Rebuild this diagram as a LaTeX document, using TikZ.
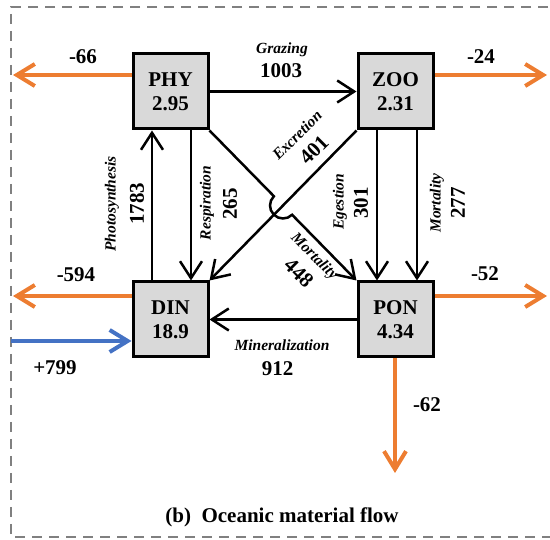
\documentclass[tikz,border=0pt]{standalone}
\usepackage{fontspec}
\setmainfont{Liberation Serif}
\usetikzlibrary{arrows.meta,calc}
\definecolor{ocOrange}{HTML}{ED7D31}
\definecolor{ocBlue}{HTML}{4472C4}
\definecolor{boxGray}{HTML}{D9D9D9}
\definecolor{frameGray}{HTML}{808080}
\begin{document}
\begin{tikzpicture}[x=1pt,y=1pt,
  pool/.style={draw=black,line width=3pt,fill=boxGray,minimum width=75pt,minimum height=75pt,inner sep=0pt,align=center,font=\fontsize{21}{24}\selectfont\bfseries},
  flow/.style={line width=2.5pt,-{Straight Barb[length=17pt,width=22pt]}},
  outflow/.style={ocOrange,line width=4pt,-{Straight Barb[length=18pt,width=22pt]}},
  inflow/.style={ocBlue,line width=4pt,-{Straight Barb[length=18pt,width=22pt]}},
  num/.style={font=\fontsize{21}{24}\selectfont\bfseries,inner sep=0pt},
  lab/.style={font=\fontsize{15.5}{18}\selectfont\bfseries\itshape,inner sep=0pt}
]
\useasboundingbox (0,0) rectangle (550,-540);
\clip (0,0) rectangle (550,-540);
\draw[frameGray,line width=2.5pt,dash pattern=on 10pt off 7pt] (565,-7) -- (11,-7) -- (11,-537) -- (565,-537);

\node[pool] (PHY) at (170.5,-91.5) {PHY\\2.95};
\node[pool] (ZOO) at (395.5,-91.5) {ZOO\\2.31};
\node[pool] (DIN) at (170.5,-319.5) {DIN\\18.9};
\node[pool] (PON) at (395.5,-319.5) {PON\\4.34};

% outer flows
\coordinate (o1) at (13,-75);
\coordinate (o2) at (547,-75);
\coordinate (o3) at (13,-296);
\coordinate (o4) at (547,-296);
\coordinate (o5) at (395,-473);
\coordinate (i1) at (11,-341);
\draw[outflow] (PHY.west |- o1) -- (o1);
\draw[outflow] (ZOO.east |- o2) -- (o2);
\draw[outflow] (DIN.west |- o3) -- (o3);
\draw[outflow] (PON.east |- o4) -- (o4);
\draw[outflow] (PON.south -| o5) -- (o5);
\draw[inflow] (i1) -- (DIN.west |- i1);

% internal flows
\coordinate (xp) at (152,0);
\coordinate (xr) at (191,0);
\coordinate (xe) at (377,0);
\coordinate (xm) at (417,0);
\draw[flow] (PHY.east) -- (ZOO.west);
\draw[flow] (DIN.north -| xp) -- (PHY.south -| xp);
\draw[flow] (PHY.south -| xr) -- (DIN.north -| xr);
\draw[flow] (ZOO.south -| xe) -- (PON.north -| xe);
\draw[flow] (ZOO.south -| xm) -- (PON.north -| xm);
\draw[flow] (PON.west) -- (DIN.east);
\draw[flow] (ZOO.south west) -- (DIN.north east);
\coordinate (X) at (intersection of PHY.south east--PON.north west and ZOO.south west--DIN.north east);
\draw[flow] let \p1=($(PON.north west)-(PHY.south east)$), \n1={atan2(\y1,\x1)} in
  (PHY.south east) -- ($(X)+(\n1+180:13pt)$) arc[start angle=\n1+180, delta angle=180, radius=13pt] -- (PON.north west);

% labels
\node[num] (l66) at (83,-57) {-66};
\node[num] (l24) at (481,-57) {-24};
\node[num] (l594) at (76,-275) {-594};
\node[num] (l52) at (485,-274) {-52};
\node[num] (l799) at (55,-368) {+799};
\node[num] (l62) at (427,-405) {-62};

\node[lab] (tgr) at (282,-50) {Grazing};
\node[num] (ngr) at (281,-71) {1003};
\node[lab] (tmin) at (282,-345) {Mineralization};
\node[num] (nmin) at (277.5,-369) {912};

\node[lab,rotate=90] (tph) at (112,-204) {Photosynthesis};
\node[num,rotate=90] (nph) at (137,-204) {1783};
\node[lab,rotate=90] (tre) at (207,-203) {Respiration};
\node[num,rotate=90] (nre) at (230,-204) {265};
\node[lab,rotate=90] (teg) at (340,-202) {Egestion};
\node[num,rotate=90] (neg) at (361,-203) {301};
\node[lab,rotate=90] (tmz) at (437,-203) {Mortality};
\node[num,rotate=90] (nmz) at (458,-203) {277};

\node[lab,rotate=45] (tex) at (297,-135) {Excretion};
\node[num,rotate=45] (nex) at (314,-150) {401};
\node[lab,rotate=-45] (tmp) at (314,-257) {Mortality};
\node[num,rotate=-45] (nmp) at (299,-273) {448};

\node[num] (title) at (282,-517) {(b)~~Oceanic material flow};
\end{tikzpicture}
\end{document}
